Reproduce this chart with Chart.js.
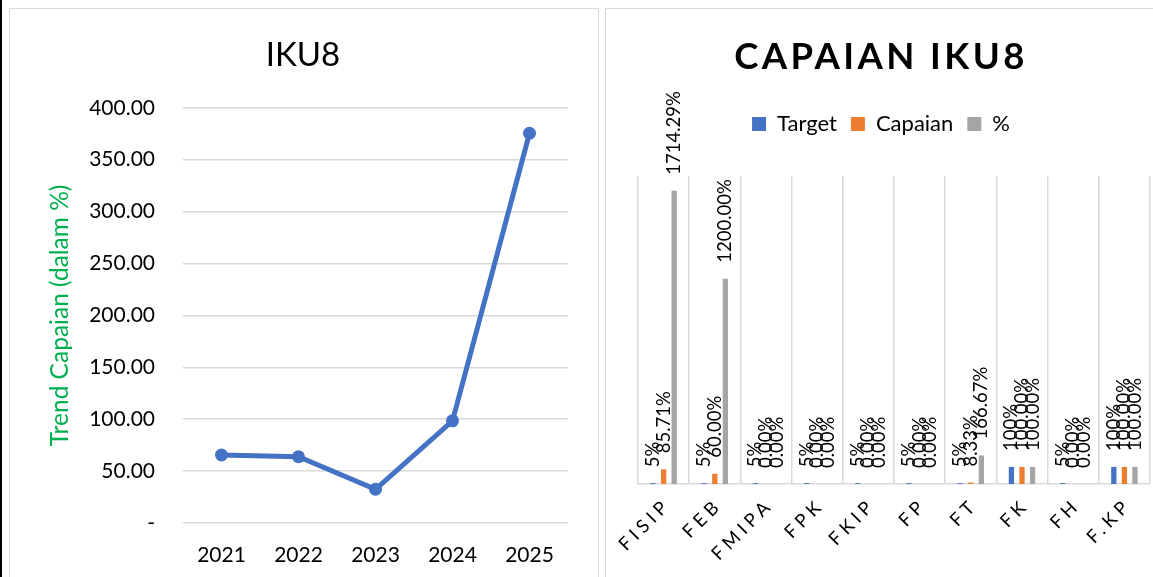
<!DOCTYPE html>
<html>
<head>
<meta charset="utf-8">
<script src="https://cdn.jsdelivr.net/npm/chart.js@4.4.1/dist/chart.umd.min.js"></script>
<style>
  html, body { margin: 0; padding: 0; background: #ffffff; width: 1153px; height: 577px; overflow: hidden; }
  .edge { position: absolute; left: 0; top: 0; width: 2px; height: 577px; background: #000; }
  .panel { position: absolute; border: 1px solid #d9d9d9; background: #fff; }
  canvas { position: absolute; }
</style>
</head>
<body>
<div class="edge"></div>
<div class="panel" style="left:9px; top:8px; width:588px; height:600px;"></div>
<div class="panel" style="left:605px; top:8px; width:600px; height:600px;"></div>
<canvas id="trend" width="588" height="568" style="left:10px; top:9px;"></canvas>
<canvas id="capaian" width="547" height="568" style="left:606px; top:9px;"></canvas>
<script>
// ---------- data ----------
const years = ['2021', '2022', '2023', '2024', '2025'];
const trendValues = [65.5, 63.8, 32.5, 98.4, 375.5];

const faculties = ['FISIP', 'FEB', 'FMIPA', 'FPK', 'FKIP', 'FP', 'FT', 'FK', 'FH', 'F.KP'];
const targetValues = [5, 5, 5, 5, 5, 5, 5, 100, 5, 100];
const capaianValues = [85.71, 60.00, 0, 0, 0, 0, 8.33, 100, 0, 100];
const percentValues = [1714.29, 1200.00, 0, 0, 0, 0, 166.67, 100, 0, 100];

const FONT = 'Lato, "Open Sans", sans-serif';

// ---------- left chart: trend ----------
new Chart(document.getElementById('trend'), {
  type: 'line',
  data: {
    labels: years,
    datasets: [{
      data: trendValues,
      borderColor: '#4472C4',
      backgroundColor: '#4472C4',
      borderWidth: 5,
      pointRadius: 6.5,
      pointBorderWidth: 0,
      pointBackgroundColor: '#4472C4',
      tension: 0
    }]
  },
  options: {
    responsive: false,
    animation: false,
    layout: { padding: { left: 28, right: 30, top: 0, bottom: 0 } },
    plugins: {
      legend: { display: false },
      tooltip: { enabled: false },
      title: {
        display: true,
        text: 'IKU8',
        color: '#000',
        font: { family: FONT, size: 33, weight: 'normal', lineHeight: 1.2 },
        padding: { top: 26.2, bottom: 33 }
      }
    },
    scales: {
      x: {
        offset: true,
        grid: { display: false },
        border: { display: false },
        ticks: { color: '#000', font: { family: FONT, size: 21 }, padding: 12 },
        afterFit(s) { s.height = 54; }
      },
      y: {
        min: 0, max: 400,
        grid: { color: '#d9d9d9', lineWidth: 1.5, drawTicks: false },
        border: { display: false },
        ticks: {
          stepSize: 50,
          color: '#000',
          padding: 28,
          font: { family: FONT, size: 21 },
          callback: (v) => v === 0 ? '-' : Number(v).toFixed(2)
        },
        title: {
          display: true,
          text: 'Trend Capaian (dalam %)',
          color: '#00B050',
          font: { family: FONT, size: 24.5, lineHeight: 1.2 },
          padding: { top: 7, bottom: 0 }
        },
        afterFit(s) { s.width = 145; }
      }
    }
  }
});

// ---------- right chart: capaian ----------
const seriesFormat = [
  (v) => Math.round(v) + '%',
  (v) => v.toFixed(2) + '%',
  (v) => v.toFixed(2) + '%'
];

const barLabels = {
  id: 'barLabels',
  afterDatasetsDraw(chart) {
    const ctx = chart.ctx;
    chart.data.datasets.forEach((ds, i) => {
      const meta = chart.getDatasetMeta(i);
      meta.data.forEach((bar, j) => {
        const txt = seriesFormat[i](ds.data[j]);
        ctx.save();
        ctx.translate(bar.x, bar.y - 16);
        ctx.rotate(-Math.PI / 2);
        ctx.font = '18.5px ' + FONT;
        ctx.fillStyle = '#000';
        ctx.textAlign = 'left';
        ctx.textBaseline = 'middle';
        ctx.fillText(txt, 0, 0);
        ctx.restore();
      });
    });
  }
};

const spacing = {
  id: 'spacing',
  beforeLayout(chart) {
    const t = chart.titleBlock;
    if (t && !t._ls) {
      const o = t.draw;
      t.draw = function (...a) { const c = this.ctx; c.save(); c.letterSpacing = '3.4px'; o.apply(this, a); c.restore(); };
      t._ls = true;
    }
    const lg = chart.legend;
    if (lg && !lg._fx) {
      const f = lg.fit;
      lg.fit = function (...a) { f.apply(this, a); this.height = 77; };
      lg._fx = true;
    }
  },
  beforeDraw(chart) {
    const sx = chart.scales.x;
    if (sx && !sx._ls) {
      const o = sx.drawLabels;
      sx.drawLabels = function (...a) { const c = this.ctx; c.save(); c.letterSpacing = '4.5px'; o.apply(this, a); c.restore(); };
      sx._ls = true;
    }
  }
};

new Chart(document.getElementById('capaian'), {
  type: 'bar',
  data: {
    labels: faculties,
    datasets: [
      { label: 'Target', data: targetValues, backgroundColor: '#4472C4' },
      { label: 'Capaian', data: capaianValues, backgroundColor: '#ED7D31' },
      { label: '%', data: percentValues, backgroundColor: '#A5A5A5' }
    ]
  },
  options: {
    responsive: false,
    animation: false,
    layout: { padding: { left: 6, right: 3, top: 0, bottom: 0 } },
    datasets: { bar: { categoryPercentage: 0.62, barPercentage: 0.5 } },
    plugins: {
      tooltip: { enabled: false },
      title: {
        display: true,
        text: 'CAPAIAN IKU8',
        color: '#000',
        font: { family: FONT, size: 36.5, weight: 'bold', lineHeight: 1.2 },
        padding: { top: 26.1, bottom: 20.1 }
      },
      legend: {
        display: true,
        position: 'top',
        labels: {
          color: '#000',
          boxWidth: 14,
          boxHeight: 14,
          padding: 14,
          font: { family: FONT, size: 22 }
        }
      }
    },
    scales: {
      x: {
        offset: true,
        grid: { display: true, offset: true, color: '#d9d9d9', lineWidth: 1.5, drawTicks: false },
        border: { display: true, color: '#d9d9d9', width: 1.5 },
        ticks: {
          color: '#000',
          autoSkip: false,
          minRotation: 45,
          maxRotation: 45,
          padding: 10,
          labelOffset: 4,
          font: { family: FONT, size: 18.5 }
        },
        afterFit(s) { s.height = 93; }
      },
      y: {
        display: true,
        min: 0, max: 1800,
        ticks: { display: false },
        grid: { display: false },
        border: { display: false },
        afterFit(s) { s.width = 26; }
      }
    }
  },
  plugins: [barLabels, spacing]
});
</script>
</body>
</html>
